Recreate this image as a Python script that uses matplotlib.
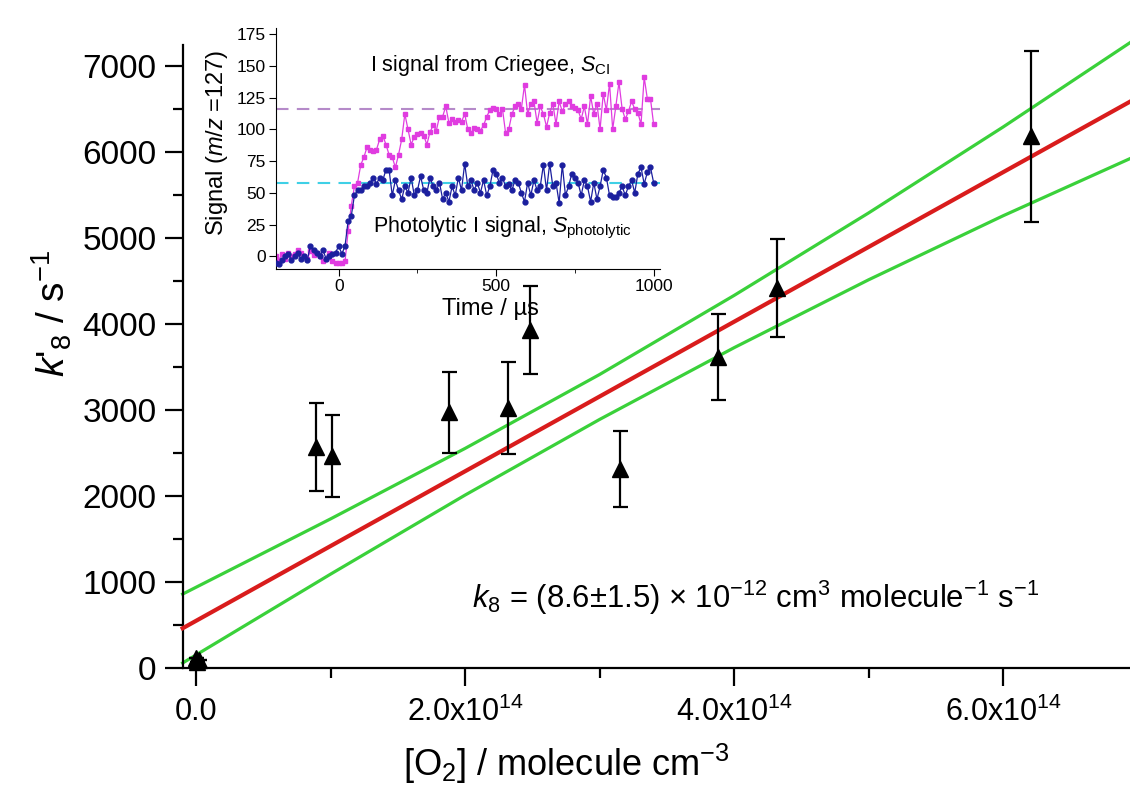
import numpy as np
import matplotlib
matplotlib.use('Agg')
import matplotlib.pyplot as plt
from matplotlib.ticker import FixedLocator, MultipleLocator

plt.rcParams['font.family'] = ['Liberation Sans', 'DejaVu Sans']
plt.rcParams['mathtext.fontset'] = 'custom'
plt.rcParams['mathtext.rm'] = 'Liberation Sans'
plt.rcParams['mathtext.it'] = 'Liberation Sans:italic'
plt.rcParams['mathtext.bf'] = 'Liberation Sans:bold'

# main data: pseudo-first-order k'8 vs [O2]
o2 = [0.0, 0.01e14, 0.02e14, 0.89e14, 1.01e14, 1.88e14, 2.32e14, 2.48e14,
      3.15e14, 3.88e14, 4.32e14, 6.21e14]
k8 = [115, 70, 90, 2570, 2465, 2975, 3020, 3935, 2315, 3620, 4420, 6185]
k8_err = [0, 0, 0, 510, 480, 475, 535, 515, 440, 500, 570, 995]

# fit line and confidence bands
band_x = [-0.1e14, 1e14, 2e14, 3e14, 4e14, 5e14, 6e14, 7e14]
fit_y = [462, 1419, 2289, 3159, 4029, 4899, 5769, 6639]
upper_y = [860, 1735, 2555, 3415, 4335, 5295, 6295, 7335]
lower_y = [58, 1092, 2012, 2892, 3727, 4517, 5262, 5967]

# inset: iodine signal vs time
t = np.arange(-200, 1001, 10)
s_criegee = [0, -3, 2, -2, 3, 0, 2, 5, 3, 0,
             -2, 4, 1, 3, 0, -4, -2, 3, -4, -5,
             -5, -5, -4, 20, 40, 55, 58, 72, 78, 86,
             84, 83, 84, 92, 95, 88, 80, 78, 70, 80,
             92, 112, 100, 88, 94, 96, 97, 95, 88, 98,
             103, 99, 110, 110, 118, 105, 108, 106, 107, 106,
             112, 100, 97, 101, 100, 99, 103, 110, 115, 117,
             116, 112, 116, 97, 100, 112, 118, 120, 116, 135,
             112, 120, 122, 105, 118, 112, 102, 113, 120, 104,
             122, 114, 120, 122, 118, 117, 115, 108, 118, 104,
             126, 112, 120, 100, 128, 115, 136, 100, 118, 137,
             116, 108, 114, 122, 116, 113, 104, 141, 124, 124,
             104]
s_photo = [-5, -6, -3, 0, 2, -3, 0, 3, -2, 0,
           -3, 8, 5, 3, 0, 5, -2, 0, 2, 3,
           8, 2, 8, 28, 32, 48, 52, 52, 55, 55,
           58, 62, 57, 62, 60, 68, 68, 48, 60, 52,
           45, 55, 50, 62, 48, 52, 63, 52, 50, 62,
           55, 52, 58, 45, 50, 43, 55, 48, 62, 52,
           73, 55, 60, 52, 58, 50, 60, 48, 55, 68,
           65, 58, 62, 55, 57, 52, 60, 58, 50, 43,
           58, 48, 60, 52, 55, 72, 52, 73, 55, 58,
           42, 72, 48, 55, 65, 62, 58, 48, 60, 55,
           43, 58, 45, 55, 68, 62, 48, 47, 47, 50,
           55, 48, 55, 60, 50, 65, 70, 57, 66, 70,
           58]
level_criegee = 116
level_photo = 58

fig = plt.figure(figsize=(11.3, 7.89), dpi=100)
ax = fig.add_axes([0.162, 0.1534, 0.838, 0.7896])

ax.plot(band_x, upper_y, color='#3ad13a', lw=2.3, zorder=2, clip_on=False)
ax.plot(band_x, lower_y, color='#3ad13a', lw=2.3, zorder=2, clip_on=False)
ax.plot(band_x, fit_y, color='#d91c1c', lw=3, zorder=3, clip_on=False)
ax.errorbar(o2, k8, yerr=k8_err, fmt='^', color='black', ms=11,
            ecolor='black', elinewidth=1.6, capsize=5.4, capthick=1.6, zorder=4,
            clip_on=False)

ax.set_xlim(-0.097e14, 6.944e14)
ax.set_ylim(0, 7250)
for s in ['top', 'right']:
    ax.spines[s].set_visible(False)
for s in ['left', 'bottom']:
    ax.spines[s].set_linewidth(1.6)

ax.xaxis.set_major_locator(FixedLocator([0, 2e14, 4e14, 6e14]))
ax.set_xticklabels(['0.0', r'2.0x10$^{14}$', r'4.0x10$^{14}$', r'6.0x10$^{14}$'])
ax.xaxis.set_minor_locator(MultipleLocator(1e14))
ax.yaxis.set_major_locator(MultipleLocator(1000))
ax.yaxis.set_minor_locator(MultipleLocator(500))
ax.tick_params(which='major', length=13, width=1.6, labelsize=22)
ax.tick_params(which='minor', length=7, width=1.6)
ax.tick_params(axis='x', pad=8)
ax.tick_params(axis='y', labelsize=24, pad=6)

ax.set_ylabel(r"$k$'$_8$ / s$^{-1}$", fontsize=28)
ax.yaxis.set_label_coords(-0.115, 0.569)
ax.set_xlabel(r'[O$_2$] / molecule cm$^{-3}$', fontsize=26)
ax.xaxis.set_label_coords(0.405, -0.118)

ax.text(2.05e14, 814,
        r'$k_8$ = (8.6$\pm$1.5) $\times$ 10$^{-12}$ cm$^3$ molecule$^{-1}$ s$^{-1}$',
        fontsize=22.3, va='center', ha='left')

# inset
ins = fig.add_axes([0.244, 0.659, 0.34, 0.306])
ins.patch.set_alpha(0)
ins.axhline(level_criegee, color='#b58ac9', lw=1.5, ls=(0, (6, 4)), zorder=1)
ins.axhline(level_photo, color='#3fd0e6', lw=1.5, ls=(0, (6, 4)), zorder=1)
ins.plot(t, s_criegee, '-s', color='#e03ce0', ms=3.5, lw=0.9, zorder=2)
ins.plot(t, s_photo, '-o', color='#1b1f9e', ms=3.5, lw=0.9, zorder=3)
ins.set_xlim(-200, 1020)
ins.set_ylim(-10, 180)
for s in ['top', 'right']:
    ins.spines[s].set_visible(False)
ins.xaxis.set_major_locator(FixedLocator([0, 500, 1000]))
ins.xaxis.set_minor_locator(MultipleLocator(250))
ins.yaxis.set_major_locator(MultipleLocator(25))
ins.tick_params(which='major', length=5, labelsize=12.5, pad=2)
ins.tick_params(which='minor', length=3)
ins.set_ylabel(r'Signal ($m/z$ =127)', fontsize=17)
ins.yaxis.set_label_coords(-0.12, 0.523)
ins.set_xlabel('Time / µs', fontsize=17)
ins.xaxis.set_label_coords(0.56, -0.12)
ins.text(100, 150, r'I signal from Criegee, $S_{\rm CI}$', fontsize=15.5, va='center')
ins.text(109, 22.5, r'Photolytic I signal, $S_{\rm photolytic}$', fontsize=15.5, va='center')

fig.savefig('out.png', dpi=100)
